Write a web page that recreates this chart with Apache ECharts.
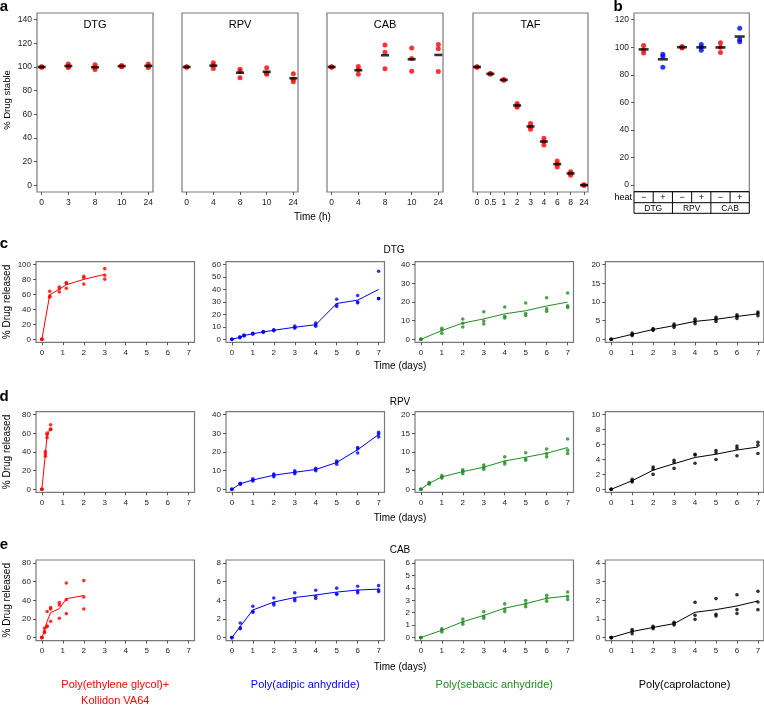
<!DOCTYPE html>
<html><head><meta charset="utf-8">
<script src="https://cdn.jsdelivr.net/npm/echarts@6/dist/echarts.min.js"></script>
<style>html,body{margin:0;padding:0;background:#fff}#c{width:764px;height:705px}</style>
</head><body><div id="c"></div>
<script>
// ---------- Panel a: stability (% drug stable), replicates per time point ----------
const stabDrugs = ['DTG', 'RPV', 'CAB', 'TAF'];
const stabTimesDTG = ['0', '3', '8', '10', '24'];
const stabTimesRPV = ['0', '4', '8', '10', '24'];
const stabTimesCAB = ['0', '4', '8', '10', '24'];
const stabTimesTAF = ['0', '0.5', '1', '2', '3', '4', '6', '8', '24'];
const stabDTG = [[100, 99.8, 100.2], [102.6, 100.4, 99.5], [101.8, 99.8, 97.8], [101.2, 100.7, 100.3], [102.6, 100.7, 99.5]];
const stabRPV = [[100, 100, 100], [103.5, 101.2, 98.7], [98.1, 96.4, 91.0], [99.3, 94.7, 93.9], [94.2, 89.6, 87.6]];
const stabCAB = [[100, 100, 100], [100.4, 97.6, 93.9], [118.6, 112.5, 98.6], [116.0, 107.2, 96.4], [119.0, 115.3, 96.2]];
const stabTAF = [[100, 99.8, 100.2], [94.6, 94.2, 93.8], [89.5, 89.1, 88.7], [69.2, 67.5, 65.9], [52.3, 49.5, 47.5], [39.9, 37.0, 34.2], [20.6, 17.8, 15.5], [11.5, 10.2, 8.5], [0.5, 0.2, 0.0]];
const stabTicksY = [0, 20, 40, 60, 80, 100, 120, 140];

// ---------- Panel b: heat ----------
const heatDrugs = ['DTG', 'RPV', 'CAB'];
const heatLevels = ['\u2212', '+'];
const heatValues = [[101.3, 98.2, 95.7], [94.8, 93.3, 85.5], [100.5, 99.5, 100.0], [102.0, 100.0, 97.7], [103.3, 100.0, 96.2], [113.7, 105.5, 104.0]];
const heatTicksY = [0, 20, 40, 60, 80, 100, 120];

// ---------- Panels c-e: release (% drug released) ----------
const polymers = ['Poly(ethylene glycol)+\nKollidon VA64', 'Poly(adipic anhydride)', 'Poly(sebacic anhydride)', 'Poly(caprolactone)'];
const polymerColors = ['#ff0000', '#0000ff', '#228b22', '#000000'];
const relDrugs = ['DTG', 'RPV', 'CAB'];
const dayTicks = [0, 1, 2, 3, 4, 5, 6, 7];

const tDTG_PEG = [0, 0.375, 0.833, 1.167, 2, 3];
const DTG_PEG = [[0, 0, 0], [64.3, 58.1, 56.4], [70.0, 67.8, 63.4], [76.2, 74.9, 68.3], [84.6, 82.4, 74.0], [94.7, 85.9, 80.6]];
const tDTG_PAA = [0, 0.38, 0.58, 1, 1.5, 2, 3, 4, 5, 6, 7];
const DTG_PAA = [[0, 0, 0], [2.1, 1.3, 1.5], [3.4, 3.0, 2.8], [4.8, 4.2, 4.4], [6.3, 5.6, 5.9], [7.7, 6.9, 7.2], [10.6, 9.0, 9.5], [13.0, 11.6, 10.6], [32.2, 27.8, 26.4], [35.2, 29.3, 30.0], [54.7, 32.8, 32.7]];
const tDTG_PSA = [0, 1, 2, 3, 4, 5, 6, 7];
const DTG_PSA = [[0, 0, 0], [5.9, 5.0, 3.2], [10.9, 8.6, 6.6], [14.8, 9.8, 8.2], [17.3, 12.3, 11.4], [19.5, 13.8, 12.7], [22.3, 16.3, 15.0], [24.8, 17.9, 17.1]];
const tDTG_PCL = [0, 1, 2, 3, 4, 5, 6, 7];
const DTG_PCL = [[0, 0, 0], [1.7, 1.3, 1.0], [2.9, 2.6, 2.4], [4.1, 3.7, 3.2], [5.4, 4.8, 4.2], [5.9, 5.4, 4.8], [6.6, 6.2, 5.6], [7.3, 6.9, 6.3]];

const tRPV_PEG = [0, 0.167, 0.25, 0.417];
const RPV_PEG = [[0, 0, 0], [40.5, 35.5, 38.0], [60.2, 58.4, 55.2], [69.2, 64.5, 64.0]];
const tRPV_PAA = [0, 0.4, 1, 2, 3, 4, 5, 6, 7];
const RPV_PAA = [[0, 0, 0], [3.2, 2.7, 3.0], [5.7, 4.8, 4.5], [8.2, 7.7, 6.8], [9.9, 9.1, 8.4], [11.3, 10.6, 10.0], [15.2, 14.5, 13.4], [22.4, 21.7, 19.5], [30.5, 29.6, 28.1]];
const tRPV_PSA = [0, 0.4, 1, 2, 3, 4, 5, 6, 7];
const RPV_PSA = [[0, 0, 0], [1.8, 1.4, 1.6], [3.7, 3.3, 3.0], [5.2, 4.8, 4.2], [6.5, 5.9, 5.4], [8.7, 7.3, 6.8], [9.8, 8.2, 7.8], [10.8, 9.5, 8.7], [13.5, 10.5, 9.6]];
const tRPV_PCL = [0, 1, 2, 3, 4, 5, 6, 7];
const RPV_PCL = [[0, 0, 0], [1.35, 1.1, 1.0], [3.0, 2.7, 2.0], [3.9, 3.6, 2.8], [4.7, 4.6, 3.5], [5.2, 4.9, 4.0], [5.8, 5.5, 4.5], [6.3, 5.9, 4.8]];

const tCAB_PEG = [0, 0.125, 0.25, 0.417, 0.833, 1.167, 2];
const CAB_PEG = [[0, 0, 0], [10.0, 6.4, 5.4], [27.9, 12.5, 11.8], [32.1, 30.7, 17.5], [37.5, 35.0, 20.7], [58.6, 40.7, 25.7], [61.1, 43.6, 30.7]];
const tCAB_PAA = [0, 0.4, 1, 2, 3, 4, 5, 6, 7];
const CAB_PAA = [[0, 0, 0], [1.57, 1.04, 0.96], [3.36, 2.82, 2.71], [4.25, 3.68, 3.5], [4.8, 4.14, 3.96], [5.07, 4.43, 4.2], [5.3, 4.64, 4.7], [5.5, 5.0, 4.8], [5.57, 5.1, 4.93]];
const tCAB_PSA = [0, 1, 2, 3, 4, 5, 6, 7];
const CAB_PSA = [[0, 0, 0], [0.7, 0.62, 0.46], [1.5, 1.26, 1.07], [2.09, 1.72, 1.55], [2.71, 2.3, 2.09], [2.98, 2.71, 2.49], [3.4, 3.16, 2.92], [3.67, 3.3, 3.06]];
const tCAB_PCL = [0, 1, 2, 3, 4, 5, 6, 7];
const CAB_PCL = [[0, 0, 0], [0.43, 0.34, 0.21], [0.61, 0.54, 0.48], [0.82, 0.75, 0.68], [1.89, 1.2, 0.98], [2.09, 1.25, 1.16], [2.3, 1.5, 1.29], [2.48, 1.91, 1.5]];

// y-axis tick ranges per release panel: [top tick, step]
const yTicksDTG = [[100, 20], [60, 10], [40, 10], [20, 5]];
const yTicksRPV = [[80, 20], [40, 10], [20, 5], [10, 2]];
const yTicksCAB = [[80, 20], [8, 2], [6, 1], [4, 1]];

// ---------- build ----------
const FONT = '"Liberation Sans", Arial, Helvetica, sans-serif';
const mean = a => a.reduce((s, v) => s + v, 0) / a.length;
const grids = [], xAxes = [], yAxes = [], series = [], gfx = [];

const axisBase = {
  axisLine: { show: false, onZero: false },
  splitLine: { show: false },
  axisTick: { length: 3, lineStyle: { color: '#333', width: 0.8 } },
  axisLabel: { fontSize: 8.5, color: '#222', fontFamily: FONT }
};
function addGrid(g, x, y) {
  grids.push(Object.assign({ show: true, borderColor: '#7a7a7a', borderWidth: 1.2, containLabel: false }, g));
  const i = grids.length - 1;
  xAxes.push(Object.assign({ gridIndex: i, position: 'bottom' }, x));
  yAxes.push(Object.assign({ gridIndex: i, position: 'left' }, y));
  return i;
}
function text(x, y, t, opt) {
  gfx.push(Object.assign({
    type: 'text', x: x, y: y, silent: true,
    style: Object.assign({ text: t, fill: '#000', font: '10px ' + FONT, textAlign: 'center', textVerticalAlign: 'middle' }, opt && opt.style || {})
  }, opt && opt.rotation ? { rotation: opt.rotation } : {}));
}
function line(x1, y1, x2, y2) {
  gfx.push({ type: 'line', silent: true, shape: { x1, y1, x2, y2 }, style: { stroke: '#000', lineWidth: 1 } });
}

// Panel a
const aData = [stabDTG, stabRPV, stabCAB, stabTAF];
const aTimes = [stabTimesDTG, stabTimesRPV, stabTimesCAB, stabTimesTAF];
const aLeft = [37, 182, 327, 473], aWidth = [116, 116, 116, 115];
aData.forEach((d, k) => {
  const n = d.length;
  const pad = n === 5 ? 0.175 : 0.3;
  const idx = d.map((_, i) => i);
  const labels = aTimes[k];
  const gi = addGrid({ left: aLeft[k], top: 13, width: aWidth[k], height: 179 },
    Object.assign({}, axisBase, { type: 'value', min: -pad, max: n - 1 + pad,
      axisTick: Object.assign({}, axisBase.axisTick, { customValues: idx }),
      axisLabel: Object.assign({}, axisBase.axisLabel, { customValues: idx, margin: 6, formatter: v => labels[Math.round(v)] }) }),
    Object.assign({}, axisBase, { type: 'value', min: -5.6, max: 145.6,
      axisTick: Object.assign({}, axisBase.axisTick, { show: k === 0, customValues: stabTicksY }),
      axisLabel: Object.assign({}, axisBase.axisLabel, { show: k === 0, customValues: stabTicksY, margin: 5 }) }));
  const pts = [];
  d.forEach((reps, i) => reps.forEach(v => pts.push([i, v])));
  series.push({ type: 'scatter', xAxisIndex: gi, yAxisIndex: gi, data: pts, symbolSize: 5, itemStyle: { color: '#ff0000' }, silent: true });
  series.push({ type: 'scatter', xAxisIndex: gi, yAxisIndex: gi, data: d.map((r, i) => [i, mean(r)]), symbol: 'rect', symbolSize: [8, 2.6], itemStyle: { color: '#000' }, z: 3, silent: true });
  text(aLeft[k] + aWidth[k] / 2, 25, stabDrugs[k], { style: { font: '11px ' + FONT } });
});
text(7, 100, '% Drug stable', { rotation: Math.PI / 2, style: { font: '9.5px ' + FONT } });
text(312.5, 217, 'Time (h)', { style: { font: '10px ' + FONT } });
text(4, 7, 'a', { style: { font: 'bold 15px ' + FONT } });

// Panel b
const gb = addGrid({ left: 634, top: 13, width: 115.3, height: 178.7 },
  Object.assign({}, axisBase, { type: 'value', min: -0.5, max: heatValues.length - 0.5, axisTick: { show: false }, axisLabel: { show: false } }),
  Object.assign({}, axisBase, { type: 'value', min: -4.8, max: 124.8,
    axisTick: Object.assign({}, axisBase.axisTick, { customValues: heatTicksY }),
    axisLabel: Object.assign({}, axisBase.axisLabel, { customValues: heatTicksY, margin: 5 }) }));
const bRed = [], bBlue = [];
heatValues.forEach((reps, i) => reps.forEach(v => (i % 2 === 0 ? bRed : bBlue).push([i, v])));
series.push({ type: 'scatter', xAxisIndex: gb, yAxisIndex: gb, data: bRed, symbolSize: 5, itemStyle: { color: '#ff0000' }, silent: true });
series.push({ type: 'scatter', xAxisIndex: gb, yAxisIndex: gb, data: bBlue, symbolSize: 5, itemStyle: { color: '#0000ff' }, silent: true });
series.push({ type: 'scatter', xAxisIndex: gb, yAxisIndex: gb, data: heatValues.map((r, i) => [i, mean(r)]), symbol: 'rect', symbolSize: [10, 2.6], itemStyle: { color: '#000' }, z: 3, silent: true });
text(618, 7, 'b', { style: { font: 'bold 15px ' + FONT } });
// heat table
const tL = 634, tR = 749.3, cw = (tR - tL) / 6, r0 = 191.7, r1 = 202.7, r2 = 213.3;
line(tL, r0, tR, r0); line(tL, r1, tR, r1); line(tL, r2, tR, r2);
for (let i = 0; i <= 6; i++) line(tL + i * cw, r0, tL + i * cw, r1);
for (let i = 0; i <= 3; i++) line(tL + i * 2 * cw, r1, tL + i * 2 * cw, r2);
heatValues.forEach((_, i) => text(tL + (i + 0.5) * cw, (r0 + r1) / 2, heatLevels[i % 2], { style: { font: '9px ' + FONT } }));
heatDrugs.forEach((dname, i) => text(tL + (i + 0.5) * 2 * cw, (r1 + r2) / 2 + 0.5, dname, { style: { font: '8.5px ' + FONT } }));
text(632, (r0 + r1) / 2, 'heat', { style: { font: '9px ' + FONT, textAlign: 'right' } });

// Panels c-e
const relRows = [
  { times: [tDTG_PEG, tDTG_PAA, tDTG_PSA, tDTG_PCL], data: [DTG_PEG, DTG_PAA, DTG_PSA, DTG_PCL], ticks: yTicksDTG },
  { times: [tRPV_PEG, tRPV_PAA, tRPV_PSA, tRPV_PCL], data: [RPV_PEG, RPV_PAA, RPV_PSA, RPV_PCL], ticks: yTicksRPV },
  { times: [tCAB_PEG, tCAB_PAA, tCAB_PSA, tCAB_PCL], data: [CAB_PEG, CAB_PAA, CAB_PSA, CAB_PCL], ticks: yTicksCAB }
];
const colLeft = [36, 226, 415, 605.3], colW = 158.5;
const rowTop = [261.7, 411.7, 560], rowH = 80.6;
const rowLetter = ['c', 'd', 'e'], letterY = [244, 397, 545];
const titleX = [394, 400, 400], titleY = [250, 402, 550];
const timeLabY = [366, 518, 667];
relRows.forEach((row, r) => {
  row.data.forEach((d, c) => {
    const top = row.ticks[c][0], step = row.ticks[c][1];
    const yt = [];
    for (let v = 0; v <= top + 1e-9; v += step) yt.push(+v.toFixed(3));
    const gi = addGrid({ left: colLeft[c], top: rowTop[r], width: colW, height: rowH },
      Object.assign({}, axisBase, { type: 'value', min: -0.28, max: 7.28,
        axisTick: Object.assign({}, axisBase.axisTick, { customValues: dayTicks }),
        axisLabel: Object.assign({}, axisBase.axisLabel, { fontSize: 8, customValues: dayTicks, margin: 6 }) }),
      Object.assign({}, axisBase, { type: 'value', min: -0.04 * top, max: 1.04 * top,
        axisTick: Object.assign({}, axisBase.axisTick, { customValues: yt }),
        axisLabel: Object.assign({}, axisBase.axisLabel, { fontSize: 8, customValues: yt, margin: 5 }) }));
    const t = row.times[c];
    const pts = [];
    d.forEach((reps, i) => reps.forEach(v => pts.push([t[i], v])));
    const col = polymerColors[c];
    series.push({ type: 'line', xAxisIndex: gi, yAxisIndex: gi, data: d.map((reps, i) => [t[i], mean(reps)]), showSymbol: false, symbol: 'none', lineStyle: { color: col, width: 1 }, silent: true, animation: false });
    series.push({ type: 'scatter', xAxisIndex: gi, yAxisIndex: gi, data: pts, symbolSize: 3.6, itemStyle: { color: col }, silent: true, z: 3 });
  });
  text(7, rowTop[r] + rowH / 2, '% Drug released', { rotation: Math.PI / 2, style: { font: '10px ' + FONT } });
  text(4, letterY[r], rowLetter[r], { style: { font: 'bold 15px ' + FONT } });
  text(titleX[r], titleY[r], relDrugs[r], { style: { font: '10px ' + FONT } });
  text(400, timeLabY[r], 'Time (days)', { style: { font: '10px ' + FONT } });
});
polymers.forEach((p, c) => {
  const lines = p.split('\n');
  lines.forEach((ln, j) => text(colLeft[c] + colW / 2, 685 + j * 15.5, ln, { style: { font: '11px ' + FONT, fill: polymerColors[c] } }));
});

const chart = echarts.init(document.getElementById('c'), null, { renderer: 'canvas' });
chart.setOption({
  animation: false,
  backgroundColor: '#fff',
  grid: grids, xAxis: xAxes, yAxis: yAxes, series: series,
  graphic: { elements: gfx }
});
</script></body></html>
